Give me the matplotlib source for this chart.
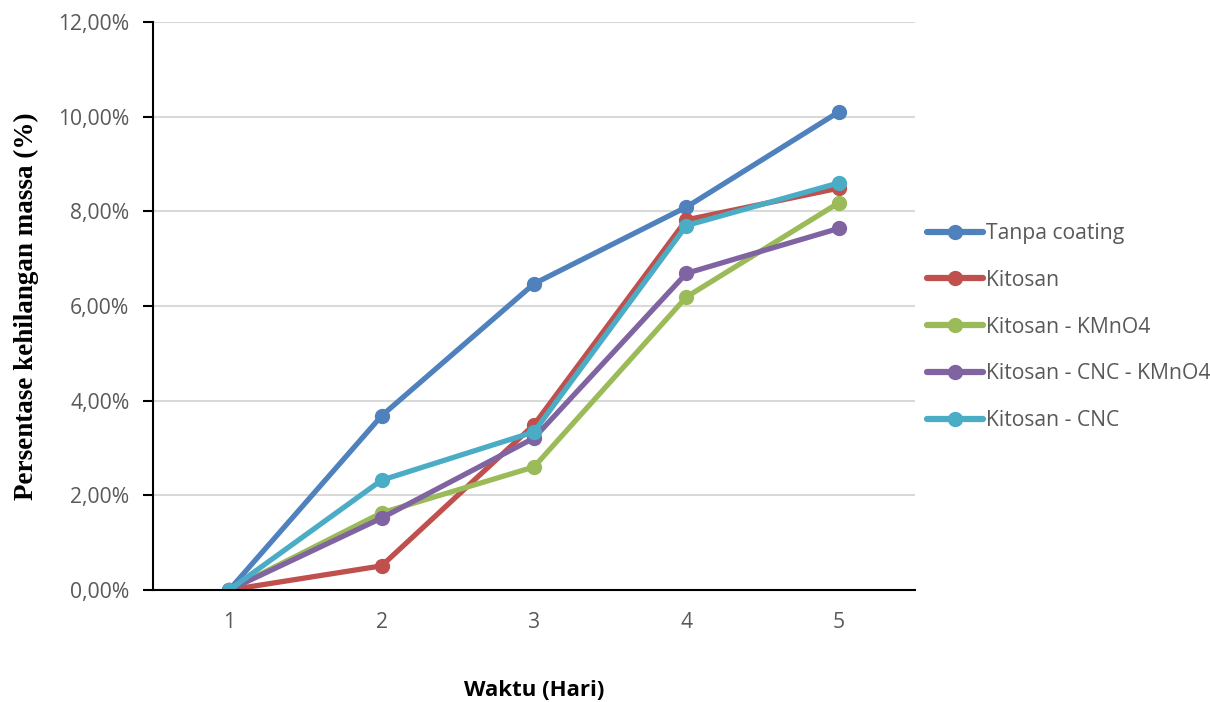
import matplotlib
matplotlib.use('Agg')
import matplotlib.pyplot as plt
from matplotlib.ticker import FuncFormatter

plt.rcParams['font.family'] = ['Open Sans', 'DejaVu Sans']

hari = [1, 2, 3, 4, 5]
tanpa_coating = [0.0, 3.68, 6.47, 8.09, 10.10]
kitosan = [0.0, 0.51, 3.49, 7.82, 8.49]
kitosan_kmno4 = [0.0, 1.63, 2.60, 6.19, 8.18]
kitosan_cnc_kmno4 = [0.0, 1.52, 3.21, 6.69, 7.64]
kitosan_cnc = [0.0, 2.32, 3.34, 7.70, 8.60]

series = [
    ('Tanpa coating', tanpa_coating, '#4F81BD'),
    ('Kitosan', kitosan, '#C0504D'),
    ('Kitosan - KMnO4', kitosan_kmno4, '#9BBB59'),
    ('Kitosan - CNC - KMnO4', kitosan_cnc_kmno4, '#8064A2'),
    ('Kitosan - CNC', kitosan_cnc, '#4BACC6'),
]

fig = plt.figure(figsize=(12.1, 7.02), dpi=100)
ax = fig.add_axes([153/1210, 1 - 590/702, (915-153)/1210, (590-22)/702])

for name, vals, col in series:
    ax.plot(hari, vals, color=col, lw=3.8, marker='o', ms=10,
            solid_capstyle='round', label=name)

ax.set_xlim(0.5, 5.5)
ax.set_ylim(0, 12)
ax.set_yticks([0, 2, 4, 6, 8, 10, 12])
ax.set_xticks(hari)
ax.yaxis.set_major_formatter(FuncFormatter(lambda v, p: ('%.2f%%' % v).replace('.', ',')))
ax.grid(axis='y', color='#D9D9D9', lw=1.5)
ax.set_axisbelow(True)
for s in ['top', 'right']:
    ax.spines[s].set_visible(False)
ax.spines['left'].set_linewidth(1.5)
ax.spines['bottom'].set_linewidth(1.5)
ax.tick_params(axis='y', length=7, width=1.5, labelsize=15.2, labelcolor='#595959', pad=10)
ax.tick_params(axis='x', length=0, labelsize=15.2, labelcolor='#595959', pad=16)

ax.set_ylabel('Persentase kehilangan massa (%)', family='Liberation Serif',
              fontweight='bold', fontsize=19.5, labelpad=14)
fig.text(534/1210, 1 - 690/702, 'Waktu (Hari)', ha='center', va='center',
         fontweight='bold', fontsize=16)

# legend to the right of the plot area
fig.legend(loc='upper left', bbox_to_anchor=(927/1210, 1 - 223/702), frameon=False,
           fontsize=15.2, labelcolor='#595959', handlelength=2.65, handletextpad=0.15,
           labelspacing=1.22, borderpad=0, borderaxespad=0)
for ln in fig.legends[0].get_lines():
    ln.set_linewidth(4.5)

fig.savefig('out.png', dpi=100)
